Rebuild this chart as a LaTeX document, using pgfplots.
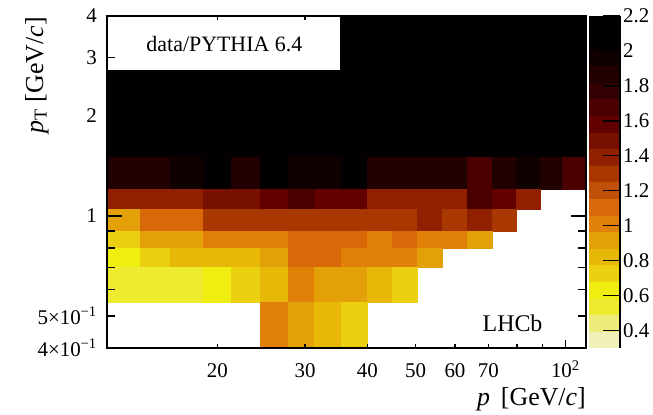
\documentclass[border=0pt]{standalone}
\usepackage{pgfplots}
\pgfplotsset{compat=1.18}
\usepgfplotslibrary{patchplots}
\usepackage{fontspec}
\setmainfont{Liberation Serif}

\pgfplotsset{colormap={lhcbheat}{
rgb255=(240,240,184) rgb255=(238,236,120) rgb255=(238,234,48) rgb255=(240,238,16)
rgb255=(234,208,16) rgb255=(232,184,8) rgb255=(228,160,8) rgb255=(224,128,8)
rgb255=(216,104,8) rgb255=(192,80,8) rgb255=(168,56,0) rgb255=(144,32,0)
rgb255=(120,16,0) rgb255=(98,0,0) rgb255=(74,0,0) rgb255=(50,0,0)
rgb255=(32,0,0) rgb255=(16,0,0) rgb255=(2,0,0) rgb255=(2,0,0)
}}
\pgfplotsset{cell/.style={patch, patch type=rectangle, shader=faceted,
  faceted color=mapped color, line width=0.3bp, point meta=explicit}}

\begin{document}
\begin{tikzpicture}
\begin{axis}[
  scale only axis, width=479bp, height=332bp,
  xmode=log, ymode=log, xmin=12, xmax=110, ymin=0.4, ymax=4,
  colormap name=lhcbheat, colormap access=piecewise constant,
  point meta min=0.3, point meta max=2.2,
  axis on top,
  axis line style={line width=2.4bp},
  tick style={line width=1.4bp, black},
  tick align=inside, tick pos=both,
  xminorticks=false, yminorticks=false,
  major tick length=8bp,
  xtick={100}, xticklabels={10\textsuperscript{2}},
  extra x ticks={20,30,40,50,60,70,80,90},
  extra x tick labels={20,30,40,50,60,70,{},{}},
  extra x tick style={major tick length=4bp},
  ytick={0.4,0.5,0.6,0.7,0.8,0.9,2,3,4},
  yticklabels={4×10\textsuperscript{−1},5×10\textsuperscript{−1},{},{},{},{},2,3,4},
  extra y ticks={1}, extra y tick labels={1},
  extra y tick style={major tick length=15bp},
  tick label style={font=\fontsize{21}{24}\selectfont, inner sep=0pt},
  xticklabel style={anchor=base, yshift=-29.5bp},
  yticklabel style={anchor=east, xshift=-10bp},
  xlabel={\textit{p}\, [GeV/\textit{c}]},
  ylabel={\textit{p}\textsubscript{T} [GeV/\textit{c}]},
  every axis x label/.style={at={(rel axis cs:1,0)}, yshift=-57bp, anchor=base east,
    inner sep=0pt, font=\fontsize{26}{30}\selectfont},
  every axis y label/.style={at={(rel axis cs:0,1)}, xshift=-64bp, yshift=-1bp,
    rotate=90, anchor=base east, inner sep=0pt, font=\fontsize{26}{30}\selectfont},
  colorbar,
  colorbar style={
    at={(parent axis.north east)}, anchor=north west, xshift=-5.5bp,
    width=31bp,
    ytick={0.4,0.6,0.8,1,1.2,1.4,1.6,1.8,2,2.2},
    yticklabels={0.4,0.6,0.8,1,1.2,1.4,1.6,1.8,2,2.2},
    tick align=inside, major tick length=17bp,
    tick style={line width=1.4bp, black},
    separate axis lines,
    axis x line=none, axis y line*=right,
    y axis line style={-, line width=2bp},
    yticklabel style={font=\fontsize{21}{24}\selectfont, inner sep=0pt, anchor=west, xshift=3bp},
  },
]
% pT 1.5 - 4
\addplot[cell] coordinates {
(12,1.5)[2.15] (14,1.5)[2.15] (14,4)[2.15] (12,4)[2.15]
(14,1.5)[2.15] (16.1,1.5)[2.15] (16.1,4)[2.15] (14,4)[2.15]
(16.1,1.5)[2.15] (18.7,1.5)[2.15] (18.7,4)[2.15] (16.1,4)[2.15]
(18.7,1.5)[2.15] (21.3,1.5)[2.15] (21.3,4)[2.15] (18.7,4)[2.15]
(21.3,1.5)[2.15] (24.4,1.5)[2.15] (24.4,4)[2.15] (21.3,4)[2.15]
(24.4,1.5)[2.15] (27.7,1.5)[2.15] (27.7,4)[2.15] (24.4,4)[2.15]
(27.7,1.5)[2.15] (31.3,1.5)[2.15] (31.3,4)[2.15] (27.7,4)[2.15]
(31.3,1.5)[2.15] (35.4,1.5)[2.15] (35.4,4)[2.15] (31.3,4)[2.15]
(35.4,1.5)[2.15] (40,1.5)[2.15] (40,4)[2.15] (35.4,4)[2.15]
(40,1.5)[2.15] (44.9,1.5)[2.15] (44.9,4)[2.15] (40,4)[2.15]
(44.9,1.5)[2.15] (50.3,1.5)[2.15] (50.3,4)[2.15] (44.9,4)[2.15]
(50.3,1.5)[2.15] (56.6,1.5)[2.15] (56.6,4)[2.15] (50.3,4)[2.15]
(56.6,1.5)[2.15] (63.4,1.5)[2.15] (63.4,4)[2.15] (56.6,4)[2.15]
(63.4,1.5)[2.15] (71.2,1.5)[2.15] (71.2,4)[2.15] (63.4,4)[2.15]
(71.2,1.5)[2.15] (79.6,1.5)[2.15] (79.6,4)[2.15] (71.2,4)[2.15]
(79.6,1.5)[2.15] (89,1.5)[2.15] (89,4)[2.15] (79.6,4)[2.15]
(89,1.5)[2.15] (98.7,1.5)[2.15] (98.7,4)[2.15] (89,4)[2.15]
(98.7,1.5)[2.15] (110,1.5)[2.15] (110,4)[2.15] (98.7,4)[2.15]
};
% pT 1.2 - 1.5
\addplot[cell] coordinates {
(12,1.2)[1.85] (14,1.2)[1.85] (14,1.5)[1.85] (12,1.5)[1.85]
(14,1.2)[1.85] (16.1,1.2)[1.85] (16.1,1.5)[1.85] (14,1.5)[1.85]
(16.1,1.2)[1.95] (18.7,1.2)[1.95] (18.7,1.5)[1.95] (16.1,1.5)[1.95]
(18.7,1.2)[2.05] (21.3,1.2)[2.05] (21.3,1.5)[2.05] (18.7,1.5)[2.05]
(21.3,1.2)[1.88] (24.4,1.2)[1.88] (24.4,1.5)[1.88] (21.3,1.5)[1.88]
(24.4,1.2)[2.05] (27.7,1.2)[2.05] (27.7,1.5)[2.05] (24.4,1.5)[2.05]
(27.7,1.2)[1.92] (31.3,1.2)[1.92] (31.3,1.5)[1.92] (27.7,1.5)[1.92]
(31.3,1.2)[1.92] (35.4,1.2)[1.92] (35.4,1.5)[1.92] (31.3,1.5)[1.92]
(35.4,1.2)[2.05] (40,1.2)[2.05] (40,1.5)[2.05] (35.4,1.5)[2.05]
(40,1.2)[1.82] (44.9,1.2)[1.82] (44.9,1.5)[1.82] (40,1.5)[1.82]
(44.9,1.2)[1.82] (50.3,1.2)[1.82] (50.3,1.5)[1.82] (44.9,1.5)[1.82]
(50.3,1.2)[1.82] (56.6,1.2)[1.82] (56.6,1.5)[1.82] (50.3,1.5)[1.82]
(56.6,1.2)[1.85] (63.4,1.2)[1.85] (63.4,1.5)[1.85] (56.6,1.5)[1.85]
(63.4,1.2)[1.72] (71.2,1.2)[1.72] (71.2,1.5)[1.72] (63.4,1.5)[1.72]
(71.2,1.2)[1.82] (79.6,1.2)[1.82] (79.6,1.5)[1.82] (71.2,1.5)[1.82]
(79.6,1.2)[1.92] (89,1.2)[1.92] (89,1.5)[1.92] (79.6,1.5)[1.92]
(89,1.2)[1.82] (98.7,1.2)[1.82] (98.7,1.5)[1.82] (89,1.5)[1.82]
(98.7,1.2)[1.65] (110,1.2)[1.65] (110,1.5)[1.65] (98.7,1.5)[1.65]
};
% pT 1.05 - 1.2
\addplot[cell] coordinates {
(12,1.05)[1.35] (14,1.05)[1.35] (14,1.2)[1.35] (12,1.2)[1.35]
(14,1.05)[1.42] (16.1,1.05)[1.42] (16.1,1.2)[1.42] (14,1.2)[1.42]
(16.1,1.05)[1.42] (18.7,1.05)[1.42] (18.7,1.2)[1.42] (16.1,1.2)[1.42]
(18.7,1.05)[1.48] (21.3,1.05)[1.48] (21.3,1.2)[1.48] (18.7,1.2)[1.48]
(21.3,1.05)[1.48] (24.4,1.05)[1.48] (24.4,1.2)[1.48] (21.3,1.2)[1.48]
(24.4,1.05)[1.55] (27.7,1.05)[1.55] (27.7,1.2)[1.55] (24.4,1.2)[1.55]
(27.7,1.05)[1.65] (31.3,1.05)[1.65] (31.3,1.2)[1.65] (27.7,1.2)[1.65]
(31.3,1.05)[1.55] (35.4,1.05)[1.55] (35.4,1.2)[1.55] (31.3,1.2)[1.55]
(35.4,1.05)[1.55] (40,1.05)[1.55] (40,1.2)[1.55] (35.4,1.2)[1.55]
(40,1.05)[1.42] (44.9,1.05)[1.42] (44.9,1.2)[1.42] (40,1.2)[1.42]
(44.9,1.05)[1.42] (50.3,1.05)[1.42] (50.3,1.2)[1.42] (44.9,1.2)[1.42]
(50.3,1.05)[1.42] (56.6,1.05)[1.42] (56.6,1.2)[1.42] (50.3,1.2)[1.42]
(56.6,1.05)[1.42] (63.4,1.05)[1.42] (63.4,1.2)[1.42] (56.6,1.2)[1.42]
(63.4,1.05)[1.65] (71.2,1.05)[1.65] (71.2,1.2)[1.65] (63.4,1.2)[1.65]
(71.2,1.05)[1.55] (79.6,1.05)[1.55] (79.6,1.2)[1.55] (71.2,1.2)[1.55]
(79.6,1.05)[1.42] (89,1.05)[1.42] (89,1.2)[1.42] (79.6,1.2)[1.42]
};
% pT 0.9 - 1.05
\addplot[cell] coordinates {
(12,0.9)[0.95] (14,0.9)[0.95] (14,1.05)[0.95] (12,1.05)[0.95]
(14,0.9)[1.15] (16.1,0.9)[1.15] (16.1,1.05)[1.15] (14,1.05)[1.15]
(16.1,0.9)[1.15] (18.7,0.9)[1.15] (18.7,1.05)[1.15] (16.1,1.05)[1.15]
(18.7,0.9)[1.25] (21.3,0.9)[1.25] (21.3,1.05)[1.25] (18.7,1.05)[1.25]
(21.3,0.9)[1.25] (24.4,0.9)[1.25] (24.4,1.05)[1.25] (21.3,1.05)[1.25]
(24.4,0.9)[1.25] (27.7,0.9)[1.25] (27.7,1.05)[1.25] (24.4,1.05)[1.25]
(27.7,0.9)[1.25] (31.3,0.9)[1.25] (31.3,1.05)[1.25] (27.7,1.05)[1.25]
(31.3,0.9)[1.25] (35.4,0.9)[1.25] (35.4,1.05)[1.25] (31.3,1.05)[1.25]
(35.4,0.9)[1.25] (40,0.9)[1.25] (40,1.05)[1.25] (35.4,1.05)[1.25]
(40,0.9)[1.25] (44.9,0.9)[1.25] (44.9,1.05)[1.25] (40,1.05)[1.25]
(44.9,0.9)[1.25] (50.3,0.9)[1.25] (50.3,1.05)[1.25] (44.9,1.05)[1.25]
(50.3,0.9)[1.35] (56.6,0.9)[1.35] (56.6,1.05)[1.35] (50.3,1.05)[1.35]
(56.6,0.9)[1.25] (63.4,0.9)[1.25] (63.4,1.05)[1.25] (56.6,1.05)[1.25]
(63.4,0.9)[1.35] (71.2,0.9)[1.35] (71.2,1.05)[1.35] (63.4,1.05)[1.35]
(71.2,0.9)[1.25] (79.6,0.9)[1.25] (79.6,1.05)[1.25] (71.2,1.05)[1.25]
};
% pT 0.8 - 0.9
\addplot[cell] coordinates {
(12,0.8)[0.75] (14,0.8)[0.75] (14,0.9)[0.75] (12,0.9)[0.75]
(14,0.8)[0.95] (16.1,0.8)[0.95] (16.1,0.9)[0.95] (14,0.9)[0.95]
(16.1,0.8)[0.95] (18.7,0.8)[0.95] (18.7,0.9)[0.95] (16.1,0.9)[0.95]
(18.7,0.8)[1.05] (21.3,0.8)[1.05] (21.3,0.9)[1.05] (18.7,0.9)[1.05]
(21.3,0.8)[1.05] (24.4,0.8)[1.05] (24.4,0.9)[1.05] (21.3,0.9)[1.05]
(24.4,0.8)[1.05] (27.7,0.8)[1.05] (27.7,0.9)[1.05] (24.4,0.9)[1.05]
(27.7,0.8)[1.15] (31.3,0.8)[1.15] (31.3,0.9)[1.15] (27.7,0.9)[1.15]
(31.3,0.8)[1.15] (35.4,0.8)[1.15] (35.4,0.9)[1.15] (31.3,0.9)[1.15]
(35.4,0.8)[1.15] (40,0.8)[1.15] (40,0.9)[1.15] (35.4,0.9)[1.15]
(40,0.8)[1.05] (44.9,0.8)[1.05] (44.9,0.9)[1.05] (40,0.9)[1.05]
(44.9,0.8)[1.15] (50.3,0.8)[1.15] (50.3,0.9)[1.15] (44.9,0.9)[1.15]
(50.3,0.8)[1.05] (56.6,0.8)[1.05] (56.6,0.9)[1.05] (50.3,0.9)[1.05]
(56.6,0.8)[1.05] (63.4,0.8)[1.05] (63.4,0.9)[1.05] (56.6,0.9)[1.05]
(63.4,0.8)[0.95] (71.2,0.8)[0.95] (71.2,0.9)[0.95] (63.4,0.9)[0.95]
};
% pT 0.7 - 0.8
\addplot[cell] coordinates {
(12,0.7)[0.65] (14,0.7)[0.65] (14,0.8)[0.65] (12,0.8)[0.65]
(14,0.7)[0.75] (16.1,0.7)[0.75] (16.1,0.8)[0.75] (14,0.8)[0.75]
(16.1,0.7)[0.85] (18.7,0.7)[0.85] (18.7,0.8)[0.85] (16.1,0.8)[0.85]
(18.7,0.7)[0.85] (21.3,0.7)[0.85] (21.3,0.8)[0.85] (18.7,0.8)[0.85]
(21.3,0.7)[0.85] (24.4,0.7)[0.85] (24.4,0.8)[0.85] (21.3,0.8)[0.85]
(24.4,0.7)[0.95] (27.7,0.7)[0.95] (27.7,0.8)[0.95] (24.4,0.8)[0.95]
(27.7,0.7)[1.15] (31.3,0.7)[1.15] (31.3,0.8)[1.15] (27.7,0.8)[1.15]
(31.3,0.7)[1.15] (35.4,0.7)[1.15] (35.4,0.8)[1.15] (31.3,0.8)[1.15]
(35.4,0.7)[1.05] (40,0.7)[1.05] (40,0.8)[1.05] (35.4,0.8)[1.05]
(40,0.7)[1.05] (44.9,0.7)[1.05] (44.9,0.8)[1.05] (40,0.8)[1.05]
(44.9,0.7)[1.05] (50.3,0.7)[1.05] (50.3,0.8)[1.05] (44.9,0.8)[1.05]
(50.3,0.7)[0.95] (56.6,0.7)[0.95] (56.6,0.8)[0.95] (50.3,0.8)[0.95]
};
% pT 0.55 - 0.7
\addplot[cell] coordinates {
(12,0.55)[0.55] (14,0.55)[0.55] (14,0.7)[0.55] (12,0.7)[0.55]
(14,0.55)[0.55] (16.1,0.55)[0.55] (16.1,0.7)[0.55] (14,0.7)[0.55]
(16.1,0.55)[0.55] (18.7,0.55)[0.55] (18.7,0.7)[0.55] (16.1,0.7)[0.55]
(18.7,0.55)[0.65] (21.3,0.55)[0.65] (21.3,0.7)[0.65] (18.7,0.7)[0.65]
(21.3,0.55)[0.75] (24.4,0.55)[0.75] (24.4,0.7)[0.75] (21.3,0.7)[0.75]
(24.4,0.55)[0.85] (27.7,0.55)[0.85] (27.7,0.7)[0.85] (24.4,0.7)[0.85]
(27.7,0.55)[1.05] (31.3,0.55)[1.05] (31.3,0.7)[1.05] (27.7,0.7)[1.05]
(31.3,0.55)[0.95] (35.4,0.55)[0.95] (35.4,0.7)[0.95] (31.3,0.7)[0.95]
(35.4,0.55)[0.95] (40,0.55)[0.95] (40,0.7)[0.95] (35.4,0.7)[0.95]
(40,0.55)[0.85] (44.9,0.55)[0.85] (44.9,0.7)[0.85] (40,0.7)[0.85]
(44.9,0.55)[0.75] (50.3,0.55)[0.75] (50.3,0.7)[0.75] (44.9,0.7)[0.75]
};
% pT 0.4 - 0.55
\addplot[cell] coordinates {
(24.4,0.4)[1.05] (27.7,0.4)[1.05] (27.7,0.55)[1.05] (24.4,0.55)[1.05]
(27.7,0.4)[0.95] (31.3,0.4)[0.95] (31.3,0.55)[0.95] (27.7,0.55)[0.95]
(31.3,0.4)[0.85] (35.4,0.4)[0.85] (35.4,0.55)[0.85] (31.3,0.55)[0.85]
(35.4,0.4)[0.75] (40,0.4)[0.75] (40,0.55)[0.75] (35.4,0.55)[0.75]
};
\node[fill=white, anchor=north west, minimum width=232bp, minimum height=53bp,
  inner sep=0pt, xshift=1.2bp, yshift=-1.2bp, font=\fontsize{22}{26}\selectfont]
  at (rel axis cs:0,1) {data/PYTHIA 6.4};
\node[anchor=base, inner sep=0pt, font=\fontsize{24}{28}\selectfont]
  at (rel axis cs:0.8466,0.049) {LHCb};
\end{axis}
\pgfresetboundingbox
\path[use as bounding box] (current axis.south west) ++(-107bp,-67bp) rectangle ++(653bp,415bp);
\end{tikzpicture}
\end{document}
